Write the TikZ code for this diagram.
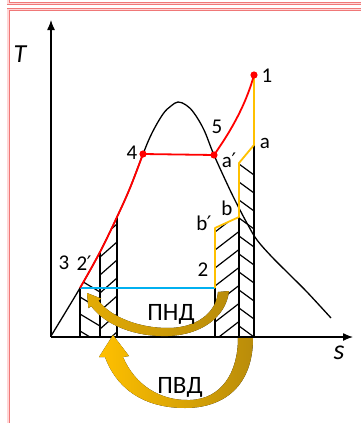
\documentclass[tikz,border=0pt]{standalone}
\usepackage{fontspec}
\setmainfont{Carlito}
\newfontfamily\djsans{DejaVu Sans}
\newcommand{\prm}{{\djsans\fontsize{20}{22}\selectfont\kern-0.5pt′}}
\usetikzlibrary{arrows.meta}
\definecolor{goldA}{RGB}{255,192,0}
\definecolor{goldB}{RGB}{185,140,10}
\definecolor{yel}{RGB}{255,192,0}
\definecolor{redc}{RGB}{255,0,0}
\definecolor{bluec}{RGB}{0,176,240}
\definecolor{pinkA}{RGB}{240,120,120}
\definecolor{pinkB}{RGB}{255,215,215}
\begin{document}
\begin{tikzpicture}[x=1pt,y=-1pt,
  frame/.style={draw=pinkA,double=pinkB,line width=0.9pt,double distance=1.2pt},
  blk/.style={line width=1.3pt,black},
  hatch/.style={line width=1.2pt,black},
  redl/.style={line width=1.8pt,redc},
  yell/.style={line width=1.8pt,yel},
  lbl/.style={inner sep=0pt,font=\fontsize{21}{24}\selectfont},
  rus/.style={inner sep=0pt,font=\fontsize{25}{28}\selectfont},
  dot/.style={fill=redc}]
\useasboundingbox (0,0) rectangle (360,423);
% frame
\draw[frame] (8,-6) -- (8,3.5) -- (366,3.5);
\draw[frame] (366,9.5) -- (8,9.5) -- (8,430);

% key points
\coordinate (O) at (51,337);
\coordinate (Ytop) at (51,20);
\coordinate (Xend) at (353,337);
\coordinate (p1) at (254,75);
\coordinate (pa) at (254,145);
\coordinate (pap) at (239,163);
\coordinate (pb) at (239,217);
\coordinate (pbp) at (215,228);
\coordinate (p2) at (215,288);
\coordinate (p2p) at (80,288);
\coordinate (p4) at (143,154);
\coordinate (p5) at (214,155);

% hatching
\begin{scope}
\clip (80,288) -- (100,252) -- (100,337) -- (80,337) -- cycle;
\foreach \yy in {280,297,314,331} \draw[hatch] (80,\yy) -- ++(20,12);
\end{scope}
\begin{scope}
\clip (100,252) -- (117,217) -- (117,337) -- (100,337) -- cycle;
\foreach \yy in {239,257,275,293,311,329,347} \draw[hatch] (100,\yy) -- ++(17,-15);
\end{scope}
\begin{scope}
\clip (215,228) -- (239,217) -- (239,337) -- (215,337) -- cycle;
\foreach \yy in {232,250,268,286,304,322,340} \draw[hatch] (215,\yy) -- ++(24,-18.5);
\end{scope}
\begin{scope}
\clip (239,163) -- (254,145) -- (254,337) -- (239,337) -- cycle;
\foreach \yy in {164,182,200,218,236,254,272,290,308,326} \draw[hatch] (239,\yy) -- ++(15,11);
\end{scope}

% verticals
\draw[blk] (p2p) -- (80,337);
\draw[blk] (100,252) -- (100,337);
\draw[blk] (117,217) -- (117,337);
\draw[blk] (p2) -- (215,337);
\draw[blk] (pb) -- (239,337);
\draw[blk] (pa) -- (254,337);

% dome
\draw[blk] plot[smooth,tension=0.6] coordinates {(51,336) (80,288) (100,252) (117,217) (130,188) (143,154) (152,133) (163,114) (171,106) (178,102) (186,105) (194,113) (204,130) (214,155) (230,190) (240,210) (248,225) (257,240) (272,257) (290,275) (307,292) (331,318)};

% axes
\draw[blk,-{Latex[length=10pt,width=8pt]}] (O) -- (Ytop);
\draw[blk,-{Latex[length=10pt,width=8pt]}] (O) -- (Xend);

% blue
\draw[line width=1.8pt,bluec] (p2p) -- (p2);
% yellow
\draw[yell,line join=round] (p1) -- (pa) -- (pap) -- (pb) -- (pbp) -- (p2);
% red
\draw[redl] plot[smooth,tension=0.6] coordinates {(80,288) (100,252) (117,217) (130,188) (143,154)};
\draw[redl] (p4) -- (p5);
\draw[redl] (p5) .. controls (228,135) and (245,108) .. (p1);
\fill[dot] (p1) circle (3.6pt);
\fill[dot] (p4) circle (3.6pt);
\fill[dot] (p5) circle (3.6pt);

% arrows
\fill[left color=goldA!60!goldB,right color=goldB]
  (87,293) -- (88.4,308.2) -- (91.2,306.1)
  .. controls (105,325) and (135,337) .. (168,336)
  .. controls (200,335) and (226,318) .. (229,291)
  -- (218,292)
  .. controls (216,314) and (195,328) .. (168,328)
  .. controls (140,328) and (112,318) .. (98.4,300.7)
  -- (101.2,298.6) -- cycle;
\fill[left color=goldA,right color=goldB]
  (113,335) -- (99,357) -- (105,357)
  .. controls (115,385) and (140,408) .. (185,408)
  .. controls (225,408) and (253,385) .. (253,338)
  -- (238,338)
  .. controls (238,372) and (222,399) .. (190,400)
  .. controls (160,401) and (135,385) .. (123,357)
  -- (129,356) -- cycle;

% labels
\node[inner sep=0pt,font=\fontsize{26}{28}\selectfont\itshape] (lT) at (20,54) {T};
\node[inner sep=0pt,font=\fontsize{28}{30}\selectfont\itshape] (ls) at (339,353) {s};
\node[lbl] (l1) at (267,76) {1};
\node[lbl] (l5) at (217,127) {5};
\node[lbl] (l4) at (132,153) {4};
\node[lbl] (lap) at (229,160) {a\prm};
\node[lbl] (la) at (265,143) {a};
\node[lbl] (lb) at (227,208) {b};
\node[lbl] (lbp) at (204,223) {b\prm};
\node[lbl] (l2) at (203,270) {2};
\node[lbl] (l3) at (64,263) {3};
\node[lbl] (l2p) at (84,263) {2\prm};
\node[rus] (lpnd) at (171,314) {ПНД};
\node[rus] (lpvd) at (180,387) {ПВД};
\end{tikzpicture}
\end{document}
